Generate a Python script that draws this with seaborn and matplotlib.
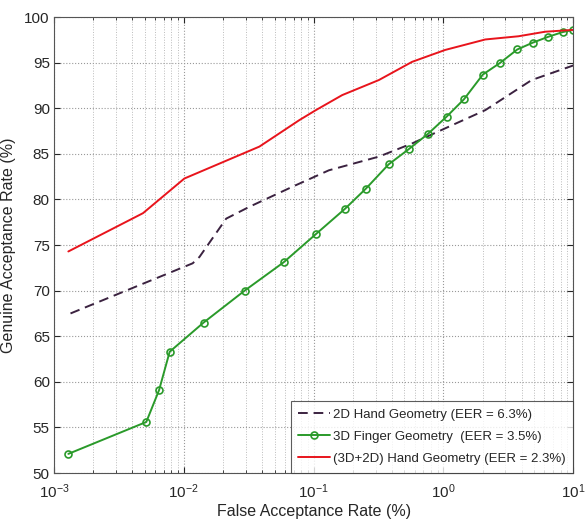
import pandas as pd
import matplotlib
matplotlib.use('Agg')
import matplotlib.pyplot as plt
import seaborn as sns
from matplotlib.ticker import LogLocator, NullFormatter

# 2D hand geometry (dashed)
far_2d = [0.00134, 0.0117, 0.0132, 0.0212, 0.032, 0.0687, 0.131, 0.318, 0.574, 1.03, 2.10, 4.78, 10.0]
gar_2d = [67.5, 73.0, 73.7, 77.9, 79.2, 81.4, 83.2, 84.7, 86.15, 87.8, 89.8, 93.1, 94.7]

# 3D finger geometry (markers)
far_3d = [0.00129, 0.00514, 0.00645, 0.00778, 0.0142, 0.0294, 0.0586, 0.104, 0.175, 0.253,
          0.378, 0.538, 0.760, 1.06, 1.44, 2.01, 2.74, 3.70, 4.87, 6.43, 8.28, 10.0]
gar_3d = [52.1, 55.6, 59.1, 63.3, 66.5, 70.0, 73.1, 76.2, 79.0, 81.2,
          83.85, 85.5, 87.2, 89.1, 91.0, 93.7, 95.0, 96.45, 97.2, 97.85, 98.36, 98.6]

# (3D+2D) hand geometry (solid red)
far_comb = [0.00129, 0.00485, 0.0101, 0.0382, 0.0775, 0.104, 0.166, 0.318, 0.574, 1.03, 2.10, 3.78, 6.07, 10.0]
gar_comb = [74.3, 78.5, 82.3, 85.8, 88.7, 89.8, 91.45, 93.1, 95.1, 96.4, 97.55, 97.9, 98.4, 98.6]

labels = ["2D Hand Geometry (EER = 6.3%)",
          "3D Finger Geometry  (EER = 3.5%)",
          "(3D+2D) Hand Geometry (EER = 2.3%)"]

sns.set_style("ticks")
plt.rcParams['font.family'] = ['Liberation Sans', 'DejaVu Sans']
plt.rcParams['xtick.direction'] = 'in'
plt.rcParams['ytick.direction'] = 'in'

fig = plt.figure(figsize=(5.85, 5.19), dpi=100)
ax = fig.add_axes([0.0923, 0.0886, 0.8877, 0.8784])

df_2d = pd.DataFrame({"far": far_2d, "gar": gar_2d})
df_3d = pd.DataFrame({"far": far_3d, "gar": gar_3d})
df_comb = pd.DataFrame({"far": far_comb, "gar": gar_comb})

sns.lineplot(data=df_2d, x="far", y="gar", ax=ax, color="#3b2240", linestyle=(0, (5, 3)),
             linewidth=1.4, label=labels[0], sort=False)
sns.lineplot(data=df_3d, x="far", y="gar", ax=ax, color="#2a9a2a", linewidth=1.4,
             marker="o", markersize=5, markerfacecolor="none", markeredgecolor="#2a9a2a",
             markeredgewidth=1.2, label=labels[1], sort=False)
sns.lineplot(data=df_comb, x="far", y="gar", ax=ax, color="#e8141c", linewidth=1.4,
             label=labels[2], sort=False)

ax.set_xscale("log")
ax.set_xlim(1e-3, 10)
ax.set_ylim(50, 100)
ax.set_yticks(range(50, 101, 5))
ax.xaxis.set_major_locator(LogLocator(base=10, numticks=10))
ax.xaxis.set_minor_locator(LogLocator(base=10, subs=range(2, 10), numticks=50))
ax.xaxis.set_minor_formatter(NullFormatter())

ax.grid(True, which="major", axis="both", linestyle=":", color="#999999", linewidth=0.8)
ax.grid(True, which="minor", axis="x", linestyle=":", color="#bbbbbb", linewidth=0.7)

ax.tick_params(axis="both", which="major", labelsize=11, length=4, top=True, right=True)
ax.tick_params(axis="y", which="major", pad=3)
ax.tick_params(axis="x", which="major", pad=7)
ax.tick_params(axis="x", which="minor", length=2, top=True)
for spine in ax.spines.values():
    spine.set_visible(True)
    spine.set_color("#555555")

ax.set_xlabel("False Acceptance Rate (%)", fontsize=11.5, labelpad=2)
ax.set_ylabel("Genuine Acceptance Rate (%)", fontsize=11.5, labelpad=6)

leg = ax.legend(loc="lower right", borderaxespad=0, fontsize=9.5, frameon=True,
                fancybox=False, edgecolor="#333333", handlelength=2.4,
                handletextpad=0.2, labelspacing=0.75, borderpad=0.6)
leg.get_frame().set_linewidth(0.8)

fig.savefig("out.png", dpi=100)
